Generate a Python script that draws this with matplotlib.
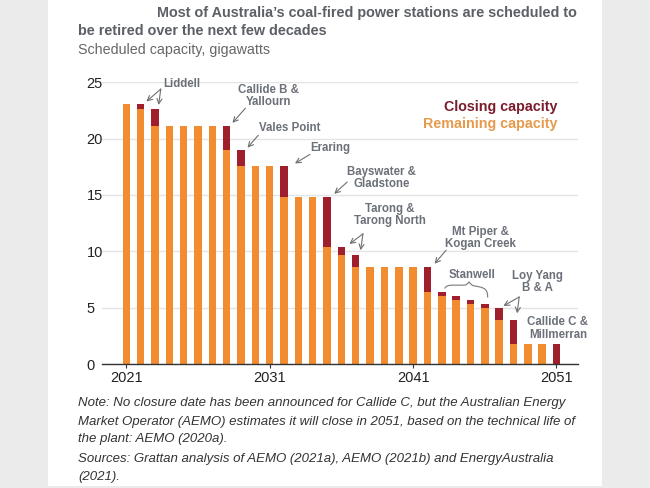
import matplotlib
matplotlib.use("Agg")
import matplotlib.pyplot as plt
import numpy as np
from matplotlib.path import Path
from matplotlib.patches import PathPatch, Rectangle

plt.rcParams['font.family'] = ['Liberation Sans', 'DejaVu Sans']

# data (GW)
years = np.arange(2021, 2052)
remaining = [23.1, 22.6, 21.1, 21.1, 21.1, 21.1, 21.1, 18.95, 17.6, 17.6, 17.6,
             14.8, 14.8, 14.8, 10.4, 9.7, 8.6, 8.6, 8.6, 8.6, 8.6,
             6.4, 6.05, 5.7, 5.3, 4.95, 3.9, 1.75, 1.75, 1.75, 0.0]
closing = [0.0, 0.5, 1.5, 0.0, 0.0, 0.0, 0.0, 2.15, 1.35, 0.0, 0.0,
           2.8, 0.0, 0.0, 4.4, 0.7, 1.1, 0.0, 0.0, 0.0, 0.0,
           2.2, 0.35, 0.35, 0.4, 0.35, 1.05, 2.15, 0.0, 0.0, 1.75]
xticks = [2021, 2031, 2041, 2051]
yticks = [0, 5, 10, 15, 20, 25]

# labels: text, x, y (data coords)
labels = [
    ("Liddell", 2024.9, 24.85),
    ("Callide B &\nYallourn", 2030.9, 23.8),
    ("Vales Point", 2032.4, 20.95),
    ("Eraring", 2035.2, 19.2),
    ("Bayswater &\nGladstone", 2038.8, 16.5),
    ("Tarong &\nTarong North", 2039.4, 13.2),
    ("Mt Piper &\nKogan Creek", 2045.7, 11.2),
    ("Stanwell", 2045.1, 7.9),
    ("Loy Yang\nB & A", 2049.7, 7.3),
    ("Callide C &\nMillmerran", 2051.1, 3.15),
]
arrows = [
    (2023.4, 24.4, 2022.4, 23.3),
    (2023.4, 24.4, 2023.25, 23.0),
    (2029.3, 22.7, 2028.4, 21.4),
    (2030.2, 20.3, 2029.45, 19.2),
    (2033.8, 18.6, 2032.76, 17.8),
    (2036.4, 16.15, 2035.5, 15.1),
    (2037.5, 11.55, 2036.56, 10.65),
    (2037.5, 11.55, 2037.34, 10.1),
    (2043.3, 10.1, 2042.5, 8.9),
    (2048.4, 5.95, 2047.3, 5.15),
    (2048.4, 5.95, 2048.25, 4.5),
]

orange = '#f28c30'
darkred = '#a01f2d'
annot_col = '#6b7079'

fig = plt.figure(figsize=(6.5, 4.88), dpi=100, facecolor='#ebebeb')
fig.patches.append(Rectangle((48/650, 2/488), 554/650, 486/488,
                             transform=fig.transFigure, facecolor='white',
                             edgecolor='none', zorder=-1))

ax = fig.add_axes([102/650, 1-364/488, 476/650, 281.7/488])
ax.set_zorder(2)
ax.set_facecolor('none')

w = 0.52
ax.bar(years, remaining, width=w, color=orange, zorder=2)
ax.bar(years, closing, width=w, bottom=remaining, color=darkred, zorder=2)

ax.set_xlim(2019.3, 2052.5)
ax.set_ylim(0, 25)
ax.set_xticks(xticks)
ax.set_yticks(yticks)
ax.tick_params(axis='x', length=3, width=0.8, color='#333333', labelsize=10.5,
               labelcolor='#222222', pad=2)
ax.tick_params(axis='y', length=0, labelsize=10.5, labelcolor='#222222', pad=11)
for t in ax.get_yticklabels():
    t.set_horizontalalignment('left')
ax.grid(axis='y', color='#e4e4e4', linewidth=1, zorder=0)
for s in ['top', 'right', 'left']:
    ax.spines[s].set_visible(False)
ax.spines['bottom'].set_color('#333333')
ax.spines['bottom'].set_linewidth(1)
ax.spines['bottom'].set_zorder(3)

for txt, x, y in labels:
    ax.text(x, y, txt, ha='center', va='center', fontsize=8.3,
            fontweight='bold', color=annot_col, linespacing=1.05, clip_on=False)
for x0, y0, x1, y1 in arrows:
    ax.annotate('', xy=(x1, y1), xytext=(x0, y0),
                arrowprops=dict(arrowstyle='->,head_length=0.35,head_width=0.18',
                                color='#6f6f6f', lw=0.8, shrinkA=0, shrinkB=0))

# Stanwell brace
verts = [(2043.2, 6.7), (2043.3, 6.95), (2043.5, 7.0), (2043.8, 7.0),
         (2044.6, 7.0), (2044.8, 7.05), (2044.9, 7.3),
         (2045.0, 7.05), (2045.2, 6.95), (2045.6, 6.85),
         (2046.0, 6.75), (2046.2, 6.6), (2046.2, 5.9)]
codes = [Path.MOVETO, Path.CURVE4, Path.CURVE4, Path.CURVE4,
         Path.LINETO, Path.CURVE3, Path.CURVE3,
         Path.CURVE3, Path.CURVE3, Path.LINETO,
         Path.CURVE4, Path.CURVE4, Path.CURVE4]
ax.add_patch(PathPatch(Path(verts, codes), facecolor='none',
                       edgecolor='#777777', lw=0.8, clip_on=False))

# legend as coloured text
fig.text(557/650, 1-107/488, 'Closing capacity', ha='right', va='center',
         fontsize=10.3, fontweight='bold', color='#7b1c2c')
fig.text(557/650, 1-124/488, 'Remaining capacity', ha='right', va='center',
         fontsize=10.3, fontweight='bold', color='#e59a4c')

# titles
title_col = '#5c6066'
fig.text(157/650, 1-13/488, "Most of Australia\u2019s coal-fired power stations are scheduled to",
         ha='left', va='center', fontsize=10.4, fontweight='bold', color=title_col)
fig.text(78/650, 1-31/488, "be retired over the next few decades",
         ha='left', va='center', fontsize=10.4, fontweight='bold', color=title_col)
fig.text(78/650, 1-50/488, "Scheduled capacity, gigawatts",
         ha='left', va='center', fontsize=10.3, color='#666666')

notes = [
    (403, "Note: No closure date has been announced for Callide C, but the Australian Energy"),
    (422, "Market Operator (AEMO) estimates it will close in 2051, based on the technical life of"),
    (439, "the plant: AEMO (2020a)."),
    (459, "Sources: Grattan analysis of AEMO (2021a), AEMO (2021b) and EnergyAustralia"),
    (477, "(2021)."),
]
for py, line in notes:
    fig.text(78/650, 1-py/488, line, ha='left', va='center', fontsize=9.5,
             style='italic', color='#333333')

fig.savefig('out.png', dpi=100, facecolor=fig.get_facecolor())
